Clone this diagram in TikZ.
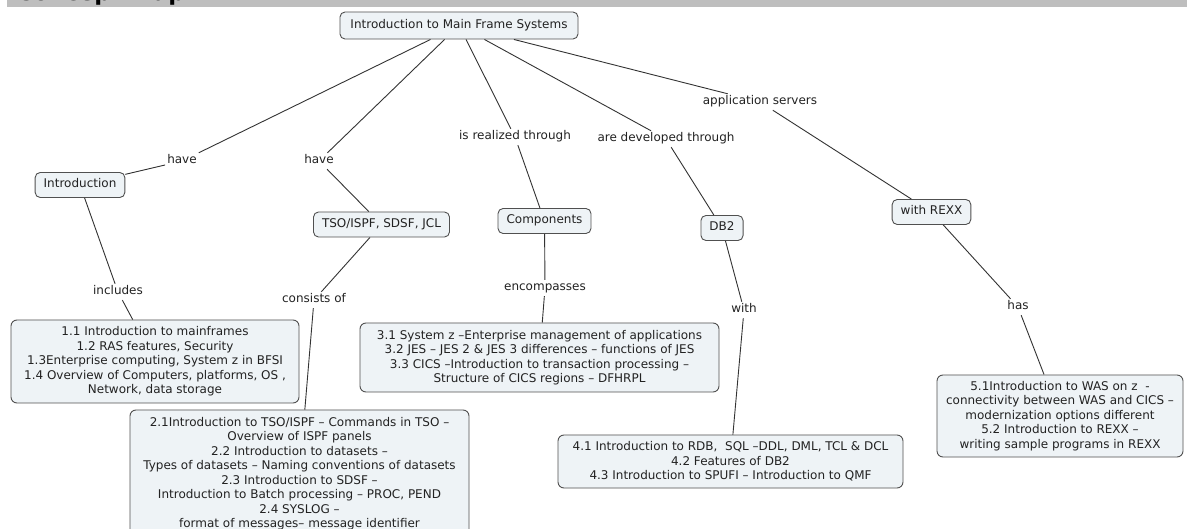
\documentclass[tikz,border=0pt]{standalone}
\usepackage{fontspec}
\setmainfont{DejaVu Sans}
\definecolor{boxfill}{HTML}{EEF3F6}
\definecolor{boxline}{HTML}{505050}
\definecolor{linkc}{HTML}{333333}
\definecolor{txt}{HTML}{222222}
\definecolor{bandgray}{HTML}{BEBEBE}
\begin{document}
\begin{tikzpicture}[x=1pt,y=-1pt,
  concept/.style={draw=boxline, fill=boxfill, rounded corners=5pt, line width=0.9pt,
    font=\fontsize{12}{14.5}\selectfont, text=txt, inner xsep=8.5pt, inner ysep=6.5pt,
    text height=9pt, text depth=3pt},
  leaf/.style={draw=boxline, fill=boxfill, rounded corners=6pt, line width=0.9pt,
    font=\fontsize{12}{14.5}\selectfont, text=txt, align=center, inner sep=0pt},
  lab/.style={font=\fontsize{12}{14.5}\selectfont, text=txt, inner sep=2pt,
    text height=9pt, text depth=3pt},
  link/.style={draw=linkc, line width=0.9pt}]
\useasboundingbox (0,0) rectangle (1187,529);
\clip (0,0) rectangle (1187,529);
\fill[white] (0,0) rectangle (1187,529);
% header band
\fill[bandgray] (7,0) rectangle (1187,7);
\begin{scope}
\clip (7,0) rectangle (1187,7);
\node[anchor=base west, inner sep=0pt, font=\bfseries\fontsize{23}{23}\selectfont, text=black] (title) at (16,1) {Concept Map};
\end{scope}
% concepts
\node[concept, minimum width=238pt, minimum height=27pt] (root) at (459,25.5) {Introduction to Main Frame Systems};
\node[concept] (intro) at (80,185) {Introduction};
\node[concept] (tso) at (381.5,224.5) {TSO/ISPF, SDSF, JCL};
\node[concept] (comp) at (544.5,221) {Components};
\node[concept] (db2) at (722,228) {DB2};
\node[concept] (rexx) at (931.5,212) {with REXX};
% leaves
\node[leaf, minimum width=288pt, minimum height=83pt] (l1) at (155,361.5) {1.1 Introduction to mainframes\\1.2 RAS features, Security\\1.3Enterprise computing, System z in BFSI\\1.4 Overview of Computers, platforms, OS ,\\Network, data storage};
\node[leaf, minimum width=339pt, minimum height=127pt] (l2) at (299.5,473.5) {2.1Introduction to TSO/ISPF – Commands in TSO –\\Overview of ISPF panels\\2.2 Introduction to datasets –\\Types of datasets – Naming conventions of datasets\\2.3 Introduction to SDSF –\\Introduction to Batch processing – PROC, PEND\\2.4 SYSLOG –\\format of messages– message identifier};
\node[leaf, minimum width=359pt, minimum height=69pt] (l3) at (539.5,357.5) {3.1 System z –Enterprise management of applications\\3.2 JES – JES 2 \& JES 3 differences – functions of JES\\3.3 CICS –Introduction to transaction processing –\\Structure of CICS regions – DFHRPL};
\node[leaf, minimum width=345pt, minimum height=53pt] (l4) at (730.5,461.5) {4.1 Introduction to RDB,\ \ SQL –DDL, DML, TCL \& DCL\\4.2 Features of DB2\\4.3 Introduction to SPUFI – Introduction to QMF};
\node[leaf, minimum width=246pt, minimum height=82pt] (l5) at (1060,416) {5.1Introduction to WAS on z\ \ -\\connectivity between WAS and CICS –\\modernization options different\\5.2 Introduction to REXX –\\writing sample programs in REXX};
% link labels
\node[lab] (have1) at (182,161) {have};
\node[lab] (have2) at (319,161) {have};
\node[lab] (realized) at (515,137) {is realized through};
\node[lab] (developed) at (666,139) {are developed through};
\node[lab] (appserv) at (760,102) {application servers};
\node[lab] (includes) at (118,292) {includes};
\node[lab] (consists) at (314,300) {consists of};
\node[lab] (encomp) at (545,288) {encompasses};
\node[lab] (with) at (744,310) {with};
\node[lab] (has) at (1018,307) {has};
% connectors
\draw[link] (root) -- (have1);
\draw[link] (have1) -- (intro);
\draw[link] (root) -- (have2);
\draw[link] (have2) -- (tso);
\draw[link] (root) -- (realized);
\draw[link] (realized) -- (comp);
\draw[link] (root) -- (developed);
\draw[link] (developed) -- (db2);
\draw[link] (root) -- (appserv);
\draw[link] (appserv) -- (rexx);
\draw[link] (intro) -- (includes);
\draw[link] (includes) -- (l1);
\draw[link] (tso) -- (consists);
\draw[link] (consists) -- (l2);
\draw[link] (comp) -- (encomp);
\draw[link] (encomp) -- (l3);
\draw[link] (db2) -- (with);
\draw[link] (with) -- (l4);
\draw[link] (rexx) -- (has);
\draw[link] (has) -- (l5);
\end{tikzpicture}
\end{document}
